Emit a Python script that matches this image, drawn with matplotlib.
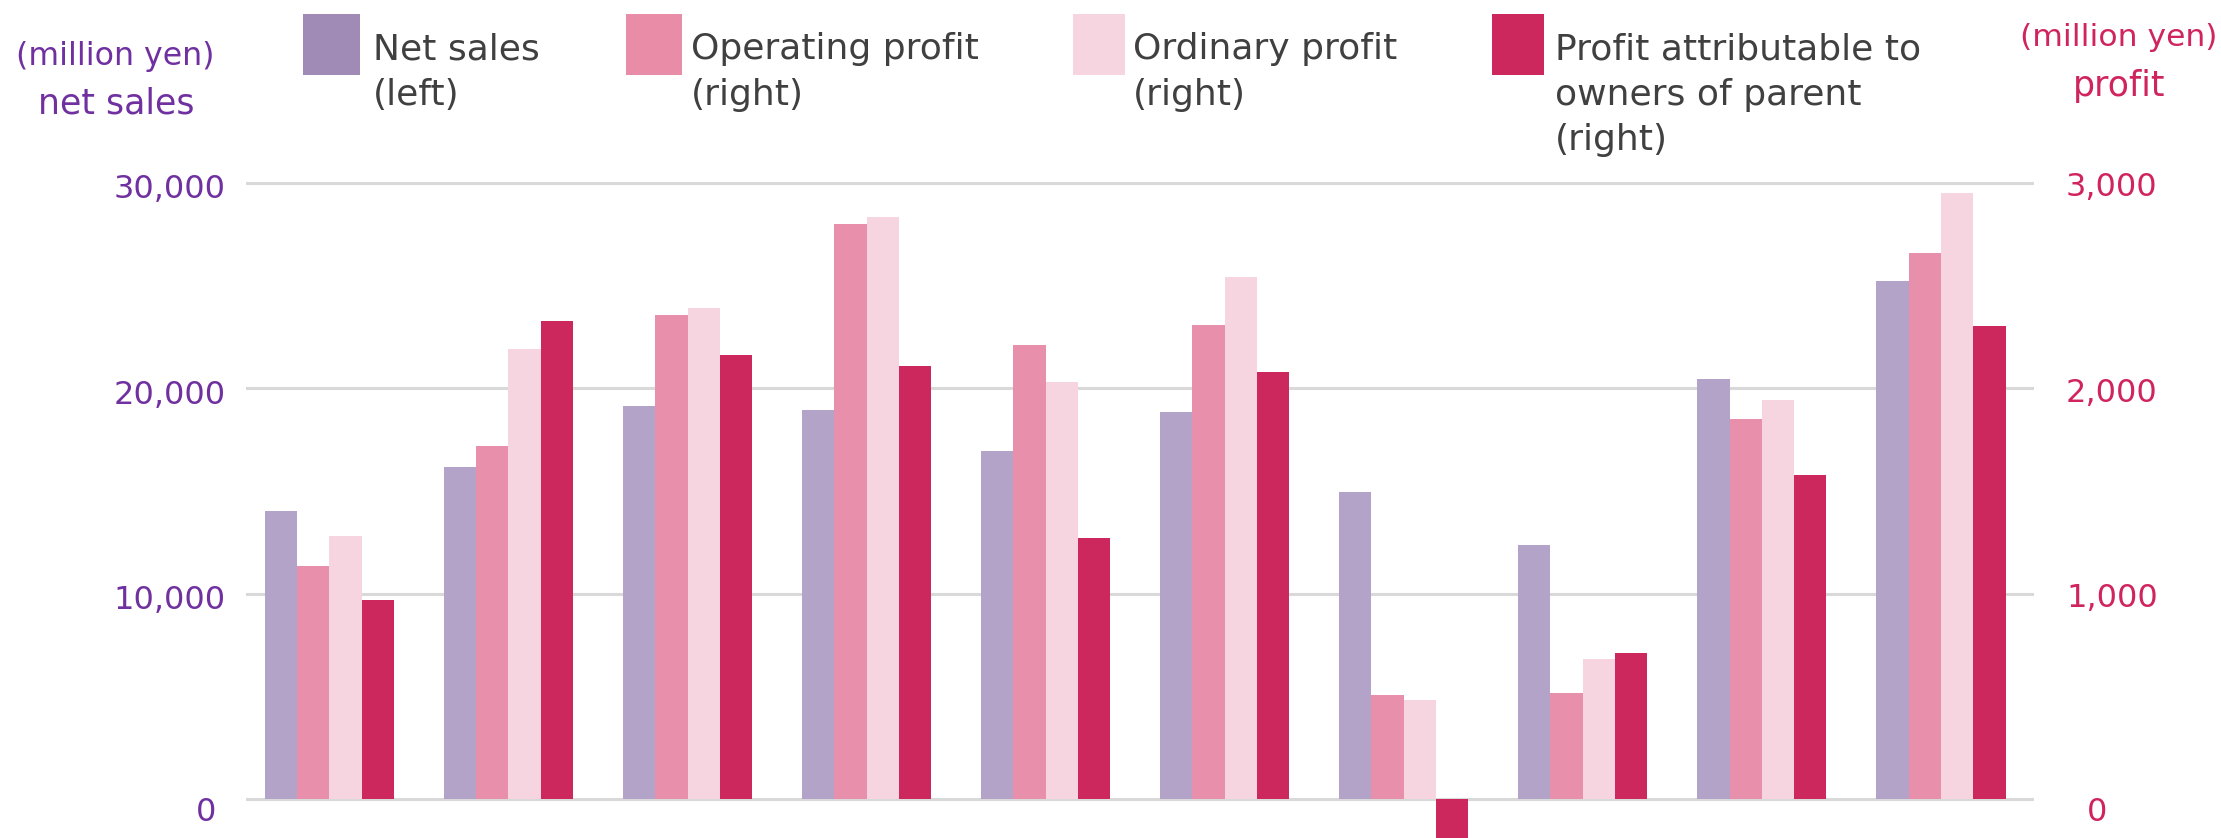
import matplotlib
matplotlib.use("Agg")
import matplotlib.pyplot as plt
import numpy as np
from matplotlib.patches import Rectangle
from matplotlib.transforms import blended_transform_factory

plt.rcParams['font.family'] = ['DejaVu Sans']

# ---------------- data ----------------
n_groups = 10
net_sales = [14030, 16170, 19150, 18940, 16930, 18870, 14930, 12370, 20460, 25230]   # left axis
operating_profit = [1134, 1721, 2357, 2800, 2212, 2309, 505, 518, 1853, 2661]        # right axis
ordinary_profit = [1279, 2191, 2392, 2834, 2032, 2544, 484, 684, 1942, 2952]          # right axis
profit_owners = [968, 2329, 2164, 2108, 1272, 2081, -300, 712, 1576, 2302]            # right axis

left_ticks = [0, 10000, 20000, 30000]
left_tick_labels = ["0", "10,000", "20,000", "30,000"]
right_ticks = [0, 1000, 2000, 3000]
right_tick_labels = ["0", "1,000", "2,000", "3,000"]

legend_labels = ["Net sales\n(left)", "Operating profit\n(right)", "Ordinary profit\n(right)",
                 "Profit attributable to\nowners of parent\n(right)"]

# ---------------- style ----------------
W, H = 2221, 838
c_sales = "#b3a3c8"
c_op = "#e88fab"
c_ord = "#f6d5e0"
c_own = "#cd285e"
c_sales_leg = "#a08ab6"
c_op_leg = "#e88ca8"
purple = "#7030a0"
crimson = "#d0245e"
grey_txt = "#404040"
grid_c = "#d9d9d9"

fig = plt.figure(figsize=(W / 100, H / 100), dpi=100)

def fx(px):
    return px / W

def fy(py):
    return 1 - py / H

ax_left_px, ax_right_px = 246, 2034
ax_top_px = 170
zero_px, top_grid_px = 799, 183
ax = fig.add_axes([fx(ax_left_px), 0, fx(ax_right_px - ax_left_px), 1 - ax_top_px / H])
ax2 = ax.twinx()

units_per_px = 30000 / (zero_px - top_grid_px)
ylo = -(H - zero_px) * units_per_px
yhi = 30000 + (top_grid_px - ax_top_px) * units_per_px
ax.set_ylim(ylo, yhi)
ax2.set_ylim(ylo / 10, yhi / 10)

x = np.arange(n_groups)
w = 0.1805
ax.set_xlim(-0.466, 9.52)
ax2.set_xlim(-0.466, 9.52)

for t in left_ticks:
    ax.axhline(t, color=grid_c, lw=2.2, zorder=0)

ax.bar(x - 1.5 * w, net_sales, w, color=c_sales, zorder=2)
ax2.bar(x - 0.5 * w, operating_profit, w, color=c_op, zorder=2)
ax2.bar(x + 0.5 * w, ordinary_profit, w, color=c_ord, zorder=2)
ax2.bar(x + 1.5 * w, profit_owners, w, color=c_own, zorder=2)

for a in (ax, ax2):
    for s in a.spines.values():
        s.set_visible(False)
    a.set_xticks([])
    a.set_yticks([])
    a.patch.set_visible(False)

# tick labels
tl = blended_transform_factory(fig.transFigure, ax.transData)
tr = blended_transform_factory(fig.transFigure, ax2.transData)
for v, lab in zip(left_ticks, left_tick_labels):
    if v == 0:
        ax.annotate(lab, xy=(fx(216), v), xycoords=tl, xytext=(0, -13), textcoords='offset pixels',
                    ha='right', va='center', fontsize=23, color=purple, annotation_clip=False)
    else:
        ax.annotate(lab, xy=(fx(226), v), xycoords=tl, xytext=(0, -7), textcoords='offset pixels',
                    ha='right', va='center', fontsize=23, color=purple, annotation_clip=False)
for v, lab in zip(right_ticks, right_tick_labels):
    if v == 0:
        ax2.annotate(lab, xy=(fx(2087), v), xycoords=tr, xytext=(0, -13), textcoords='offset pixels',
                     ha='left', va='center', fontsize=23, color=crimson, annotation_clip=False)
    else:
        ax2.annotate(lab, xy=(fx(2066), v), xycoords=tr, xytext=(0, -5), textcoords='offset pixels',
                     ha='left', va='center', fontsize=23, color=crimson, annotation_clip=False)

# axis titles
fig.text(fx(115), fy(57), "(million yen)", ha='center', va='center', fontsize=22.8, color=purple)
fig.text(fx(116), fy(104), "net sales", ha='center', va='center', fontsize=25, color=purple)
fig.text(fx(2119), fy(38), "(million yen)", ha='center', va='center', fontsize=22.6, color=crimson)
fig.text(fx(2119), fy(86), "profit", ha='center', va='center', fontsize=25, color=crimson)

# legend
leg_patches = [(303, 57, c_sales_leg), (626, 56, c_op_leg), (1073, 52, c_ord), (1492, 52, c_own)]
leg_text_x = [373, 691, 1133, 1555]
for (px, pw, col), tx, lab in zip(leg_patches, leg_text_x, legend_labels):
    fig.add_artist(Rectangle((fx(px), fy(75)), fx(pw), 61 / H, transform=fig.transFigure,
                             facecolor=col, edgecolor='none'))
    fig.text(fx(tx), fy(32), lab, ha='left', va='top', fontsize=26, color=grey_txt, linespacing=1.43)

fig.savefig("out.png", dpi=100)
